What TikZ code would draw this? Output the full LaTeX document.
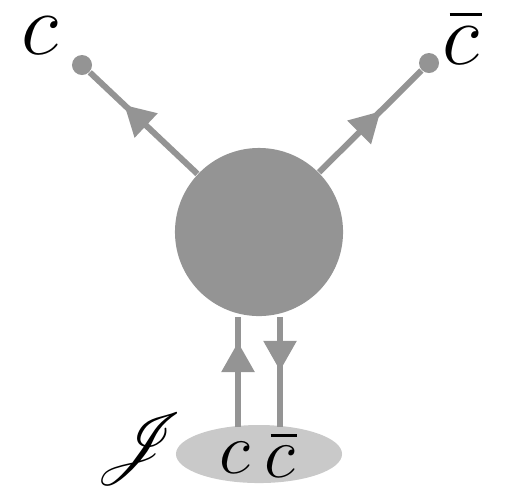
\documentclass[tikz,border=0pt]{standalone}
\usepackage{amsmath}
\usepackage{mathrsfs}
\usetikzlibrary{arrows.meta,positioning,shapes.geometric,decorations.markings}
\definecolor{blobgray}{RGB}{148,148,148}
\definecolor{srcgray}{RGB}{201,201,201}
\newcommand{\antic}{\mkern1.5mu\overline{\mkern-1.5mu c\mkern0.5mu}}

\begin{document}
\begin{tikzpicture}[x=0.01cm, y=-0.01cm,
        blob/.style={circle, fill=blobgray, minimum size=1.68cm, inner sep=0pt},
        leg/.style={circle, fill=blobgray, minimum size=0.2cm, inner sep=0pt},
        source/.style={ellipse, fill=srcgray, minimum width=1.66cm,
            minimum height=0.58cm, inner sep=0pt},
        prop/.style={color=blobgray, line width=0.06cm, postaction={decorate},
            decoration={markings, mark=at position #1 with
                {\arrow{Triangle[length=0.3cm, width=0.32cm]}}}},
        big/.style={inner sep=0pt, font=\fontsize{24}{28}\selectfont},
        small/.style={inner sep=0pt, font=\fontsize{20}{24}\selectfont},
    ]
        \useasboundingbox (0,0) rectangle (507,493);

        \node[blob] (blob) at (259,232) {};
        \node[leg] (legc) at (82,65) {};
        \node[leg] (legcb) at (429,63) {};
        \node[source] (src) at (259,454) {};

        % external legs
        \node[big] (lc) at (40,36) {$c$};
        \node[big] (lcb) at (462,37) {$\antic$};

        \draw[prop=0.68] (blob) -- (legc);
        \draw[prop=0.6] (blob) -- (legcb);

        % source lines
        \coordinate (jl) at (238,427);
        \coordinate (jr) at (280,427);
        \draw[prop=0.77] (jl) -- (jl |- blob.south);
        \draw[prop=0.49] (blob.south -| jr) -- (jr);

        \node[small] (sc) at (235,458) {$c$};
        \node[small] (scb) at (281,454) {$\antic$};
        \node[small] (lj) at (140,449) {$\mathscr{J}$};
    \end{tikzpicture}
\end{document}
